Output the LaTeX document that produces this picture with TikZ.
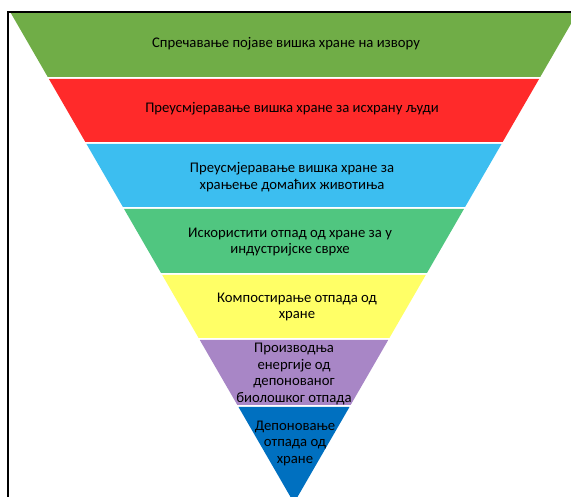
\documentclass[tikz,border=0pt]{standalone}
\usepackage{fontspec}
\setmainfont{Carlito}
\usepackage{xcolor}
\definecolor{level1}{RGB}{112,173,71}
\definecolor{level2}{RGB}{255,42,42}
\definecolor{level3}{RGB}{60,190,240}
\definecolor{level4}{RGB}{80,198,128}
\definecolor{level5}{RGB}{255,255,102}
\definecolor{level6}{RGB}{168,134,198}
\definecolor{level7}{RGB}{0,112,192}
\tikzset{
    lbl/.style={align=center, inner sep=0pt, font=\fontsize{14.7}{16.5}\selectfont}
}

\begin{document}
\begin{tikzpicture}[x=1pt, y=-1pt]
\useasboundingbox (0,0) rectangle (571,497);
\begin{scope}
    \clip (0,0) rectangle (571,497);
    \foreach \t/\b/\c in {13/77/level1,79/142/level2,144/207/level3,209/273/level4,275/338/level5,340/405/level6,407/503/level7}{
        \fill[\c] ({294-0.578*(503-\t)},\t) -- ({294+0.578*(503-\t)},\t) -- ({294+0.578*(503-\b)},\b) -- ({294-0.578*(503-\b)},\b) -- cycle;
    }
\end{scope}
\draw[line width=1.5pt] (8,497) -- (8,12) -- (571,12);
\node[lbl] (source) at (286,44) {Спречавање појаве вишка хране на извору};
\node[lbl] (people) at (292,109) {Преусмјеравање вишка хране за исхрану људи};
\node[lbl] (animals) at (292,177) {Преусмјеравање вишка хране за\\храњење домаћих животиња};
\node[lbl] (industry) at (290,242) {Искористити отпад од хране за у\\индустријске сврхе};
\node[lbl] (compost) at (297,307) {Компостирање отпада од\\хране};
\node[lbl] (energy) at (294,374) {Производња\\енергије од\\депонованог\\биолошког отпада};
\node[lbl] (landfill) at (295,443) {Депоновање\\отпада од\\хране};
\end{tikzpicture}
\end{document}
